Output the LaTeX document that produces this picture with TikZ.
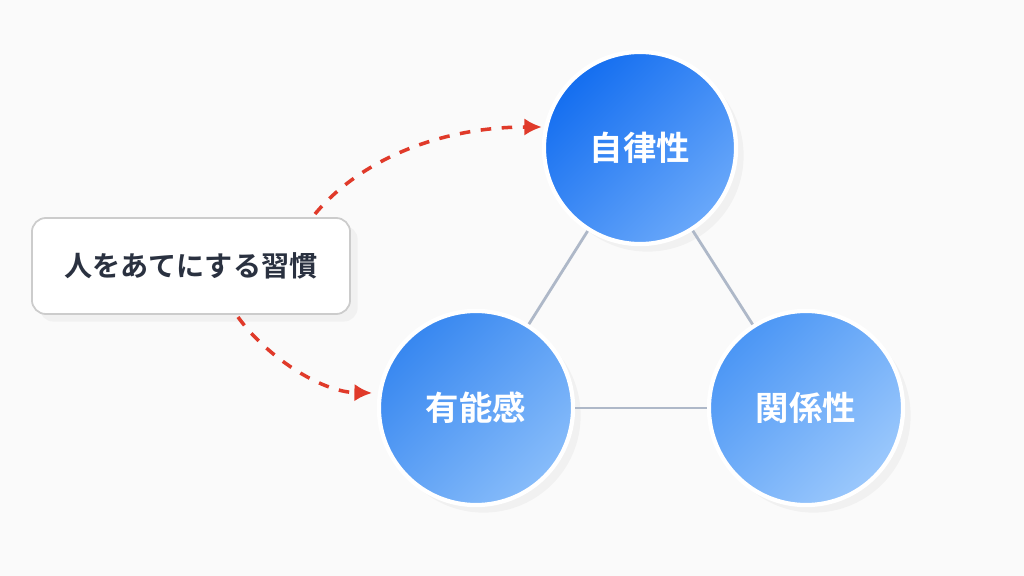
\documentclass[tikz,border=0pt]{standalone}
\usepackage{fontspec}
\newfontfamily\cjk{Noto Sans CJK JP Bold}
\usepackage{tikz}
\usetikzlibrary{arrows.meta, positioning, shadows}
\definecolor{bgc}{HTML}{FAFAFA}
\definecolor{arrc}{HTML}{E03A2A}
\definecolor{linec}{HTML}{AEB8C8}
\definecolor{inkc}{HTML}{2A3140}
\begin{document}
\begin{tikzpicture}[x=0.01cm,y=-0.01cm,
    ring/.style={circle, draw=white, line width=1.2pt, minimum size=1.92cm, inner sep=0pt,
      text=white, font=\cjk\fontsize{9.5}{11}\selectfont, drop shadow={opacity=0.07}},
    habit/.style={rounded corners=4pt, draw=gray!40, fill=white, line width=0.5pt,
      minimum width=3.18cm, minimum height=0.96cm, font=\cjk\fontsize{8}{10}\selectfont,
      text=inkc, drop shadow={opacity=0.07}},
    link/.style={linec, line width=0.8pt},
    push/.style={arrc, dashed, line width=1pt, -{Latex[length=5pt,width=5pt]}}]
  \fill[bgc] (0,0) rectangle (1024,576);
  % circles
  \node[ring, top color={rgb,255:red,20;green,110;blue,240},
        bottom color={rgb,255:red,105;green,168;blue,250}, shading angle=45] (auto) at (640,148) {自律性};
  \node[ring, minimum size=1.94cm, top color={rgb,255:red,55;green,135;blue,240},
        bottom color={rgb,255:red,135;green,188;blue,250}, shading angle=45] (comp) at (476,408) {有能感};
  \node[ring, minimum size=1.94cm, top color={rgb,255:red,75;green,150;blue,245},
        bottom color={rgb,255:red,155;green,200;blue,252}, shading angle=45] (rel) at (806,408) {関係性};
  \draw[link] (auto) -- (comp);
  \draw[link] (auto) -- (rel);
  \draw[link] (comp) -- (rel);
  % habit box
  \node[habit] (habit) at (191,266) {人をあてにする習慣};
  \coordinate (h1) at (315,214);
  \coordinate (h2) at (238,317);
  \draw[push] (h1) .. controls (360,160) and (440,127) .. (auto.west |- 0,127);
  \draw[push] (h2) .. controls (265,355) and (320,392) .. (372,393);
\end{tikzpicture}
\end{document}
